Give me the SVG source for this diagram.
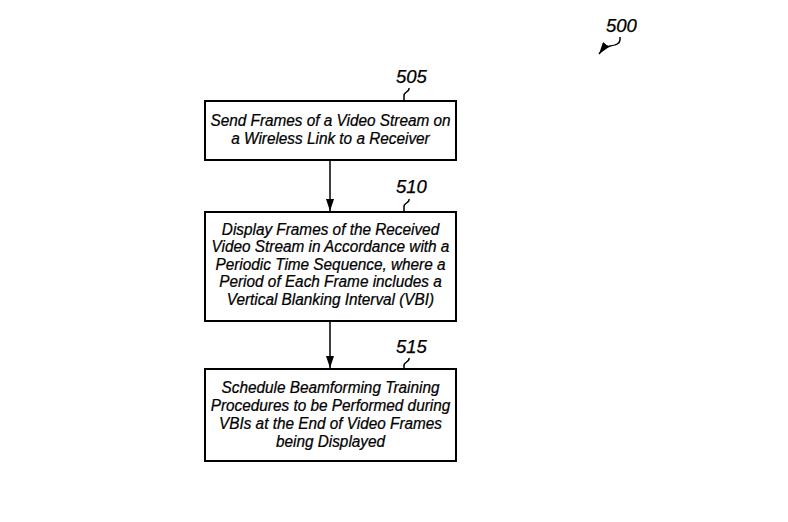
<svg xmlns="http://www.w3.org/2000/svg" width="788" height="522" viewBox="0 0 788 522">
<style>
.box{fill:#fff;stroke:#000;stroke-width:2}
.t{font-family:"Liberation Sans",Arial,sans-serif;font-style:italic;font-size:16.5px;text-anchor:middle;fill:#000;stroke:#000;stroke-width:0.25}
.ref{font-family:"Liberation Sans",Arial,sans-serif;font-style:italic;font-size:18.5px;fill:#000;stroke:#000;stroke-width:0.25}
.ln{fill:none;stroke:#000;stroke-width:1.5}
</style>
<defs>
<marker id="arr" viewBox="0 0 12 8" refX="12" refY="4" markerWidth="12" markerHeight="8" orient="auto" markerUnits="userSpaceOnUse">
<path d="M0,0 L12,4 L0,8 Z" fill="#000"/>
</marker>
</defs>
<rect width="788" height="522" fill="#fff"/>
<g id="label500">
<text class="ref" x="606" y="32">500</text>
<path class="ln" d="M620,37 C621,44 616,45 610,46 C605,47 602,50 599,54" marker-end="url(#arr)"/>
</g>
<g id="connectors">
<line class="ln" x1="330" y1="160" x2="330" y2="211" marker-end="url(#arr)"/>
<line class="ln" x1="330" y1="321" x2="330" y2="368" marker-end="url(#arr)"/>
</g>
<g id="node505">
<rect class="box" x="205" y="101" width="251" height="59"/>
<g transform="translate(330.5,0) scale(0.93,1) translate(-330.5,0)">
<text class="t" x="330.5" y="126">Send Frames of a Video Stream on</text>
<text class="t" x="330.5" y="144">a Wireless Link to a Receiver</text>
</g>
<text class="ref" x="396" y="83">505</text>
<path class="ln" d="M409,88 C410,92 403,92 404,96 L404,100"/>
</g>
<g id="node510">
<rect class="box" x="205" y="212" width="251" height="109"/>
<g transform="translate(330.5,0) scale(0.93,1) translate(-330.5,0)">
<text class="t" x="330.5" y="235">Display Frames of the Received</text>
<text class="t" x="330.5" y="252.5">Video Stream in Accordance with a</text>
<text class="t" x="330.5" y="270">Periodic Time Sequence, where a</text>
<text class="t" x="330.5" y="287.5">Period of Each Frame includes a</text>
<text class="t" x="330.5" y="305">Vertical Blanking Interval (VBI)</text>
</g>
<text class="ref" x="396" y="193">510</text>
<path class="ln" d="M409,199 C410,203 403,203 404,207 L404,211"/>
</g>
<g id="node515">
<rect class="box" x="205" y="369" width="251" height="92"/>
<g transform="translate(330.5,0) scale(0.93,1) translate(-330.5,0)">
<text class="t" x="330.5" y="393">Schedule Beamforming Training</text>
<text class="t" x="330.5" y="411">Procedures to be Performed during</text>
<text class="t" x="330.5" y="429">VBIs at the End of Video Frames</text>
<text class="t" x="330.5" y="447">being Displayed</text>
</g>
<text class="ref" x="396" y="353">515</text>
<path class="ln" d="M409,358 C410,362 403,362 404,366 L404,368"/>
</g>
</svg>
